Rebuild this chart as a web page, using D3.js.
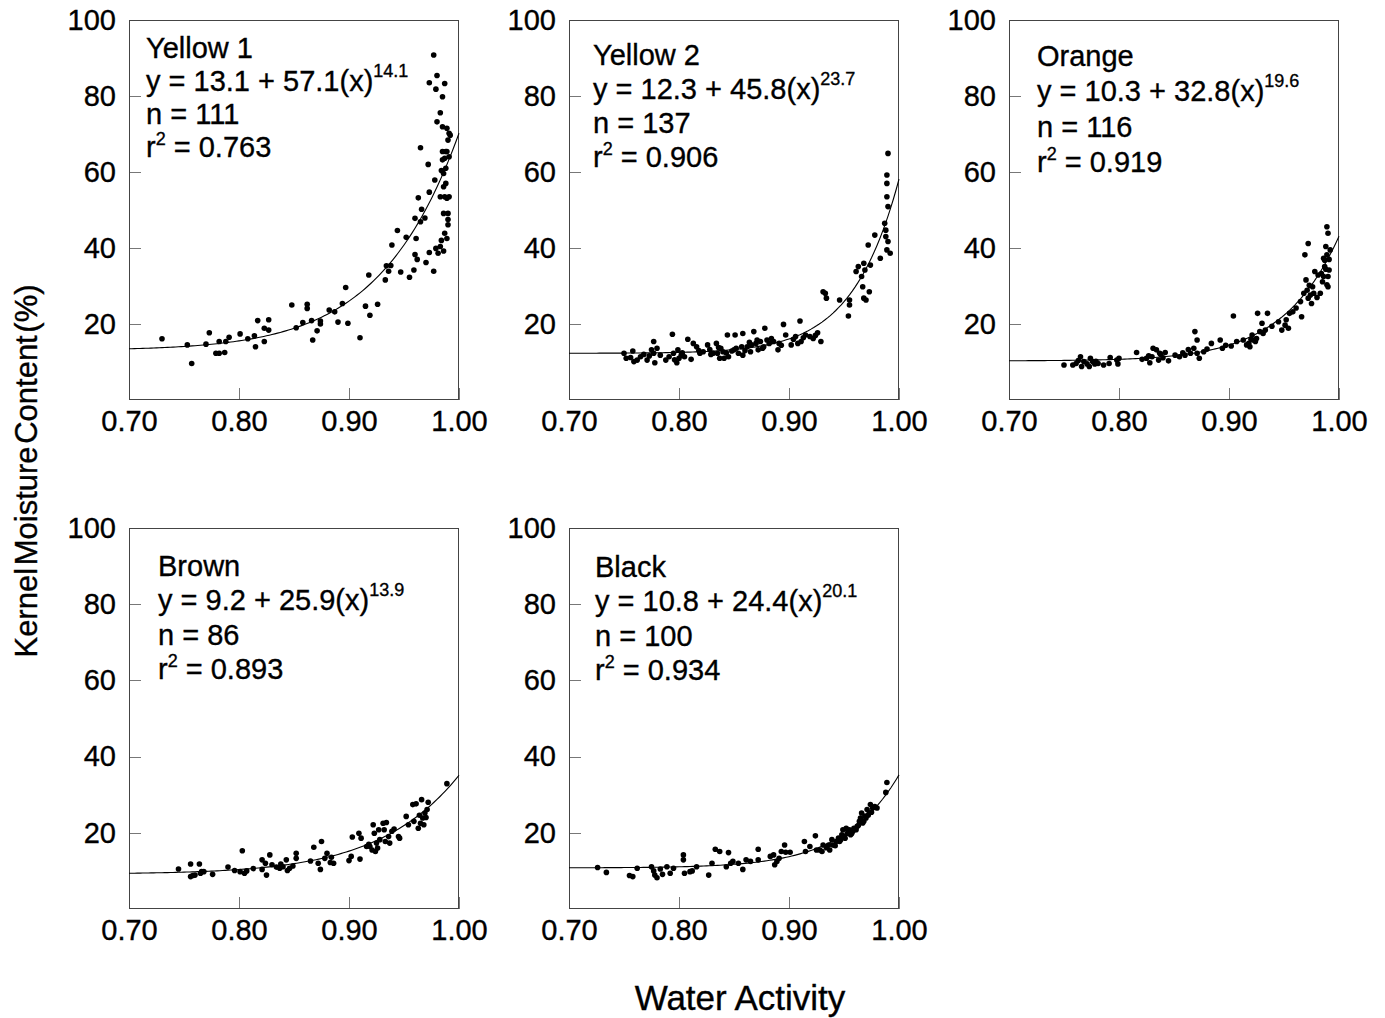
<!DOCTYPE html>
<html>
<head>
<meta charset="utf-8">
<script src="https://cdn.jsdelivr.net/npm/d3@7"></script>
<style>
  html, body { margin: 0; padding: 0; background: #fff; }
  svg { display: block; }
  text { font-family: "Liberation Sans", Arial, Helvetica, sans-serif; fill: #000; stroke: #000; stroke-width: 0.35px; }
</style>
</head>
<body>
<svg id="chart" width="1385" height="1018"></svg>
<script>
// ---------- DATA ----------
const panelNames = ["Yellow 1", "Yellow 2", "Orange", "Brown", "Black"];
const fitA = [13.1, 12.3, 10.3, 9.2, 10.8];
const fitB = [57.1, 45.8, 32.8, 25.9, 24.4];
const fitC = [14.1, 23.7, 19.6, 13.9, 20.1];
const nLabels = ["111", "137", "116", "86", "100"];
const r2Labels = ["0.763", "0.906", "0.919", "0.893", "0.934"];
const xTicks = [0.70, 0.80, 0.90, 1.00];
const yTicks = [20, 40, 60, 80, 100];
const xTitle = "Water Activity";
const yTitle = "Kernel Moisture Content (%)";

// [water activity, kernel moisture content %]
const yellow1 = [[0.730,16.1],[0.753,14.5],[0.757,9.6],[0.770,14.7],[0.773,17.7],[0.779,12.3],[0.782,12.3],[0.782,15.4],[0.787,12.5],[0.788,15.4],[0.791,16.5],[0.801,17.4],[0.808,16.1],[0.814,16.9],[0.815,14.0],[0.817,20.9],[0.823,15.4],[0.823,18.9],[0.827,21.1],[0.827,18.4],[0.848,25.0],[0.852,19.0],[0.858,20.4],[0.862,25.2],[0.862,24.1],[0.866,20.9],[0.867,15.8],[0.871,18.2],[0.874,20.0],[0.874,20.8],[0.882,23.7],[0.887,23.2],[0.890,20.5],[0.894,25.4],[0.897,29.6],[0.899,20.2],[0.910,16.4],[0.915,24.7],[0.918,32.9],[0.919,22.3],[0.926,25.2],[0.933,31.6],[0.934,35.3],[0.936,33.9],[0.938,35.4],[0.939,40.8],[0.944,44.6],[0.947,33.7],[0.952,42.8],[0.955,32.3],[0.959,34.2],[0.960,38.3],[0.961,42.5],[0.960,47.8],[0.962,37.0],[0.963,53.2],[0.965,66.4],[0.965,46.9],[0.966,50.2],[0.969,47.9],[0.970,36.2],[0.972,62.0],[0.973,54.7],[0.973,38.8],[0.977,33.9],[0.977,90.8],[0.973,83.5],[0.978,57.9],[0.979,39.9],[0.980,85.4],[0.979,81.8],[0.981,38.6],[0.983,75.6],[0.985,79.8],[0.987,83.3],[0.985,65.4],[0.980,73.2],[0.986,39.2],[0.985,71.9],[0.984,60.4],[0.986,59.6],[0.987,63.6],[0.988,65.4],[0.989,71.5],[0.990,68.4],[0.988,57.0],[0.987,53.5],[0.989,53.1],[0.990,49.1],[0.990,46.1],[0.989,42.5],[0.987,43.9],[0.991,70.2],[0.992,69.7],[0.983,40.4],[0.986,56.1],[0.991,53.5],[0.989,65.4],[0.985,63.2],[0.990,47.5],[0.983,53.5],[0.986,49.1],[0.988,61.0],[0.991,64.0],[0.984,42.0]];

const yellow2 = [[0.750,12.3],[0.752,11.0],[0.758,12.9],[0.759,10.1],[0.762,10.5],[0.765,11.4],[0.771,10.5],[0.773,11.6],[0.775,13.2],[0.777,15.4],[0.777,12.3],[0.778,9.8],[0.780,13.6],[0.788,10.5],[0.791,11.4],[0.794,17.3],[0.795,12.3],[0.798,9.8],[0.799,13.2],[0.800,11.0],[0.802,11.8],[0.805,11.4],[0.808,16.0],[0.811,10.7],[0.813,14.9],[0.816,14.0],[0.819,12.3],[0.822,12.7],[0.826,14.5],[0.828,13.3],[0.831,12.3],[0.834,14.9],[0.835,12.3],[0.837,11.0],[0.838,13.6],[0.840,12.7],[0.841,11.0],[0.844,17.1],[0.845,11.4],[0.848,12.9],[0.851,17.1],[0.852,13.6],[0.854,12.3],[0.857,14.0],[0.858,17.5],[0.858,11.8],[0.862,14.0],[0.865,12.7],[0.866,14.5],[0.868,18.0],[0.870,14.9],[0.872,13.2],[0.874,15.4],[0.877,14.0],[0.878,18.9],[0.880,15.8],[0.882,14.9],[0.886,15.4],[0.890,13.2],[0.891,14.9],[0.895,19.9],[0.897,17.1],[0.902,14.5],[0.906,16.7],[0.908,14.9],[0.910,20.8],[0.911,15.4],[0.915,17.1],[0.919,16.7],[0.922,16.2],[0.926,17.7],[0.929,15.4],[0.931,28.5],[0.933,28.1],[0.934,26.8],[0.946,26.3],[0.954,22.1],[0.955,25.0],[0.955,26.3],[0.961,33.8],[0.963,35.1],[0.966,32.5],[0.967,29.8],[0.968,36.0],[0.968,26.8],[0.970,26.3],[0.969,34.2],[0.973,28.5],[0.972,40.8],[0.974,35.5],[0.978,43.4],[0.983,37.3],[0.987,46.5],[0.988,44.7],[0.988,43.0],[0.989,57.0],[0.989,59.2],[0.989,53.5],[0.990,64.9],[0.990,50.9],[0.990,41.7],[0.989,39.5],[0.992,38.6],[0.756,11.2],[0.768,12.0],[0.783,11.8],[0.796,10.6],[0.803,12.4],[0.818,13.0],[0.829,12.0],[0.836,13.8],[0.843,12.4],[0.850,13.2],[0.860,13.0],[0.864,15.2],[0.871,15.8],[0.876,13.6],[0.884,16.2],[0.893,14.4],[0.904,16.0],[0.913,16.4],[0.924,17.0]];

const orange = [[0.750,9.2],[0.758,9.2],[0.761,9.6],[0.765,11.4],[0.766,8.8],[0.768,10.1],[0.771,9.5],[0.773,8.8],[0.774,11.0],[0.776,10.1],[0.778,9.5],[0.781,9.6],[0.786,9.2],[0.791,9.6],[0.792,11.2],[0.798,10.5],[0.799,9.5],[0.800,11.0],[0.816,12.5],[0.821,10.7],[0.825,11.0],[0.828,9.8],[0.830,11.4],[0.831,13.6],[0.834,13.2],[0.836,10.5],[0.837,12.3],[0.840,11.1],[0.842,12.5],[0.845,10.3],[0.851,11.8],[0.855,11.4],[0.860,11.8],[0.863,13.3],[0.865,12.3],[0.868,13.6],[0.869,18.0],[0.871,15.8],[0.871,12.3],[0.873,11.0],[0.877,12.7],[0.884,14.9],[0.892,15.8],[0.894,13.6],[0.904,22.1],[0.902,14.2],[0.907,15.4],[0.913,15.8],[0.916,14.5],[0.918,14.9],[0.919,14.0],[0.921,17.1],[0.922,15.8],[0.924,15.4],[0.925,16.2],[0.926,22.8],[0.928,18.0],[0.930,20.2],[0.931,17.5],[0.933,18.4],[0.935,22.8],[0.945,20.6],[0.948,18.4],[0.951,19.7],[0.952,21.1],[0.954,18.9],[0.955,22.8],[0.958,23.2],[0.966,21.9],[0.965,25.9],[0.968,28.1],[0.969,38.2],[0.970,31.6],[0.971,28.9],[0.972,41.2],[0.972,26.8],[0.974,27.6],[0.975,25.4],[0.976,29.8],[0.977,28.1],[0.978,33.8],[0.981,32.9],[0.983,28.1],[0.984,33.3],[0.985,31.1],[0.986,37.3],[0.987,35.1],[0.988,40.4],[0.989,30.3],[0.989,38.2],[0.989,45.6],[0.990,43.9],[0.991,34.2],[0.990,29.8],[0.992,39.5],[0.986,32.5],[0.987,36.8],[0.990,32.5],[0.763,10.4],[0.779,10.2],[0.827,11.6],[0.838,12.0],[0.858,12.4],[0.880,13.4],[0.897,14.4],[0.920,16.0],[0.939,19.4],[0.961,24.2],[0.973,30.2],[0.980,27.0],[0.988,34.4],[0.991,37.0]];

const brown = [[0.745,10.5],[0.756,11.8],[0.756,8.5],[0.758,8.8],[0.760,8.9],[0.764,11.8],[0.765,9.4],[0.766,9.8],[0.768,9.8],[0.776,9.1],[0.790,11.0],[0.796,10.1],[0.801,9.8],[0.803,15.3],[0.805,9.4],[0.807,10.0],[0.821,12.9],[0.821,10.4],[0.824,12.0],[0.825,8.9],[0.828,14.2],[0.830,11.6],[0.834,11.0],[0.837,10.7],[0.840,11.1],[0.843,12.9],[0.844,10.1],[0.846,10.7],[0.849,11.3],[0.852,14.6],[0.852,13.3],[0.865,12.6],[0.868,16.2],[0.872,12.0],[0.874,10.4],[0.875,17.7],[0.878,13.3],[0.880,14.6],[0.883,12.2],[0.886,12.0],[0.900,12.7],[0.902,13.8],[0.903,18.9],[0.909,19.9],[0.910,13.1],[0.911,18.6],[0.916,16.4],[0.919,16.4],[0.921,15.5],[0.922,22.1],[0.923,19.9],[0.924,15.1],[0.925,17.3],[0.927,20.8],[0.928,18.2],[0.931,22.5],[0.932,20.8],[0.933,17.7],[0.934,22.7],[0.936,19.0],[0.937,17.3],[0.939,20.4],[0.945,19.0],[0.946,18.6],[0.952,24.3],[0.954,22.1],[0.958,27.4],[0.961,27.6],[0.963,21.2],[0.965,22.5],[0.966,28.7],[0.967,23.9],[0.968,22.1],[0.969,25.2],[0.971,26.1],[0.972,28.0],[0.989,32.9],[0.813,10.6],[0.838,11.8],[0.884,13.6],[0.918,17.0],[0.926,16.0],[0.941,21.0],[0.959,23.0],[0.964,24.6],[0.970,24.0]];

const black = [[0.726,10.9],[0.734,9.6],[0.755,8.8],[0.758,8.5],[0.762,10.7],[0.775,11.1],[0.777,10.0],[0.778,8.9],[0.780,8.2],[0.783,10.5],[0.785,9.1],[0.789,11.1],[0.792,9.4],[0.795,10.7],[0.804,14.2],[0.804,12.9],[0.805,9.4],[0.810,9.8],[0.812,10.0],[0.816,11.1],[0.827,8.9],[0.830,12.0],[0.833,15.7],[0.837,15.1],[0.843,11.1],[0.845,14.8],[0.847,12.0],[0.849,12.5],[0.854,12.0],[0.858,10.4],[0.861,12.9],[0.865,12.5],[0.872,15.7],[0.872,12.9],[0.883,13.8],[0.886,14.2],[0.887,11.6],[0.889,12.5],[0.891,13.3],[0.893,15.1],[0.896,16.8],[0.897,14.9],[0.901,14.9],[0.914,17.7],[0.915,15.1],[0.919,16.4],[0.924,19.2],[0.925,15.5],[0.928,15.5],[0.930,15.1],[0.931,16.8],[0.934,16.1],[0.936,16.8],[0.937,15.5],[0.939,18.2],[0.940,16.8],[0.943,17.7],[0.945,18.6],[0.946,17.7],[0.948,19.5],[0.949,20.8],[0.951,18.6],[0.952,21.2],[0.953,19.9],[0.955,20.8],[0.956,19.5],[0.958,20.4],[0.959,21.2],[0.961,20.8],[0.962,21.7],[0.964,23.0],[0.965,23.9],[0.966,25.2],[0.968,23.0],[0.969,24.4],[0.970,23.9],[0.971,26.1],[0.973,25.2],[0.974,27.4],[0.976,26.5],[0.978,26.9],[0.980,26.5],[0.988,30.6],[0.989,33.2],[0.942,16.6],[0.947,18.2],[0.950,19.0],[0.957,19.8],[0.963,21.9],[0.967,22.6],[0.972,24.6],[0.975,25.4]];

const panelData = [yellow1, yellow2, orange, brown, black];

// ---------- LAYOUT ----------
const layout = [
  { left: 129, top: 20,  bottom: 400, tx: 17, ty: 38, lh: 33 },
  { left: 569, top: 20,  bottom: 400, tx: 24, ty: 45, lh: 34 },
  { left: 1009, top: 20, bottom: 400, tx: 28, ty: 46, lh: 35.3 },
  { left: 129, top: 528, bottom: 909, tx: 29, ty: 48, lh: 34.3 },
  { left: 569, top: 528, bottom: 909, tx: 26, ty: 49, lh: 34.3 }
];
const W = 330;
const FS = 29;

const svg = d3.select("#chart");

panelNames.forEach((name, i) => {
  const L = layout[i];
  const x = d3.scaleLinear().domain([0.70, 1.00]).range([L.left, L.left + W]);
  const y = d3.scaleLinear().domain([0, 100]).range([L.bottom, L.top]);
  const g = svg.append("g");

  // y axis (inward ticks)
  const ya = g.append("g")
    .attr("transform", `translate(${L.left},0)`)
    .call(d3.axisLeft(y).tickValues(yTicks).tickSizeInner(-12).tickSizeOuter(0).tickPadding(13).tickFormat(d3.format("d")));
  ya.select(".domain").remove();
  ya.selectAll(".tick line").attr("stroke", "#777").attr("shape-rendering", "crispEdges");
  ya.selectAll(".tick text").attr("font-size", FS).attr("fill", "#000");
  ya.attr("font-family", null);

  // x axis (inward ticks)
  const xa = g.append("g")
    .attr("transform", `translate(0,${L.bottom})`)
    .call(d3.axisBottom(x).tickValues(xTicks).tickSizeInner(-12).tickSizeOuter(0).tickPadding(10).tickFormat(d3.format(".2f")));
  xa.select(".domain").remove();
  xa.selectAll(".tick line").attr("stroke", "#777").attr("shape-rendering", "crispEdges");
  xa.selectAll(".tick text").attr("font-size", FS).attr("fill", "#000");
  xa.attr("font-family", null);

  // box
  g.append("rect")
    .attr("x", L.left + 0.5).attr("y", L.top + 0.5)
    .attr("width", W - 1).attr("height", L.bottom - L.top - 1)
    .attr("fill", "none").attr("stroke", "#444").attr("stroke-width", 1)
    .attr("shape-rendering", "crispEdges");

  // fitted curve (from the equation printed in the panel)
  const xs = d3.range(0.70, 1.0001, 0.0025);
  const fit = xs.map(v => [v, fitA[i] + fitB[i] * Math.pow(v, fitC[i])]);
  g.append("path")
    .datum(fit)
    .attr("fill", "none").attr("stroke", "#000").attr("stroke-width", 1.1)
    .attr("d", d3.line().x(d => x(d[0])).y(d => y(d[1])));

  // points
  g.selectAll("circle.pt")
    .data(panelData[i])
    .join("circle")
    .attr("class", "pt")
    .attr("cx", d => x(d[0])).attr("cy", d => y(d[1]))
    .attr("r", 2.8).attr("fill", "#000");

  // annotation
  const tx = L.left + L.tx;
  const t0 = L.top + L.ty;
  g.append("text").attr("x", tx).attr("y", t0).attr("font-size", FS).text(name);

  const eq = g.append("text").attr("x", tx).attr("y", t0 + L.lh).attr("font-size", FS);
  eq.append("tspan").text(`y = ${fitA[i].toFixed(1)} + ${fitB[i].toFixed(1)}(x)`);
  eq.append("tspan").attr("font-size", 18).attr("dy", -14).text(fitC[i].toFixed(1));

  g.append("text").attr("x", tx).attr("y", t0 + 2 * L.lh).attr("font-size", FS).text(`n = ${nLabels[i]}`);

  const r2 = g.append("text").attr("x", tx).attr("y", t0 + 3 * L.lh).attr("font-size", FS);
  r2.append("tspan").text("r");
  r2.append("tspan").attr("font-size", 18).attr("dy", -12).text("2");
  r2.append("tspan").attr("dy", 12).text(` = ${r2Labels[i]}`);
});

// axis titles
svg.append("text")
  .attr("transform", "translate(37,471) rotate(-90)")
  .attr("text-anchor", "middle")
  .attr("font-size", 31)
  .attr("word-spacing", -6)
  .text(yTitle);

svg.append("text")
  .attr("x", 740).attr("y", 1010)
  .attr("text-anchor", "middle")
  .attr("font-size", 35)
  .text(xTitle);
</script>
</body>
</html>
